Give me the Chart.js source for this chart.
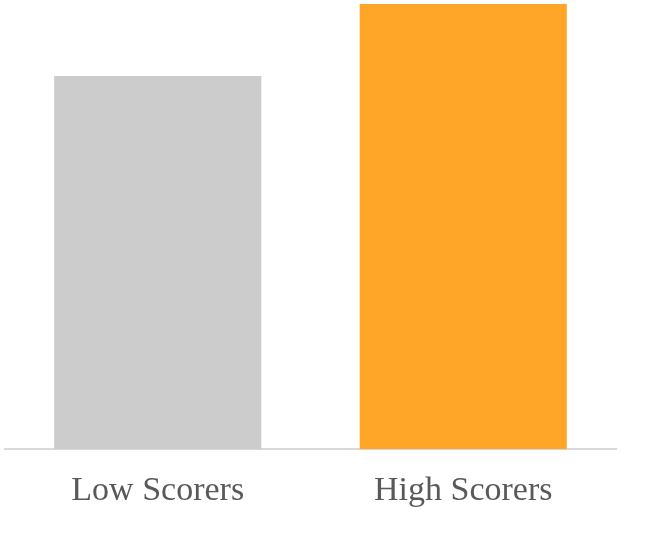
<!DOCTYPE html>
<html>
<head>
<meta charset="utf-8">
<script src="https://cdn.jsdelivr.net/npm/chart.js@4/dist/chart.umd.min.js"></script>
<style>
  html, body { margin: 0; padding: 0; background: #fff; }
  #wrap { width: 658px; height: 533px; }
</style>
</head>
<body>
<div id="wrap"><canvas id="scoreChart"></canvas></div>
<script>
// Chart data
const categories = ["Low Scorers", "High Scorers"];
const scores = [83.8, 100];
const barColors = ["#CCCCCC", "#FFA629"];

new Chart(document.getElementById("scoreChart"), {
  type: "bar",
  data: {
    labels: categories,
    datasets: [{
      data: scores,
      backgroundColor: barColors,
      borderWidth: 0,
      categoryPercentage: 1,
      barPercentage: 0.678
    }]
  },
  options: {
    responsive: true,
    maintainAspectRatio: false,
    animation: false,
    layout: { padding: { left: 5, right: 42, top: 4, bottom: 9 } },
    plugins: {
      legend: { display: false },
      tooltip: { enabled: false }
    },
    scales: {
      x: {
        grid: { display: false },
        border: { color: "#D9D9D9", width: 2 },
        ticks: {
          color: "#595959",
          padding: 13,
          font: { family: "'Liberation Serif', 'DejaVu Serif', serif", size: 34 }
        }
      },
      y: {
        display: false,
        min: 0,
        max: 100
      }
    }
  }
});
</script>
</body>
</html>
